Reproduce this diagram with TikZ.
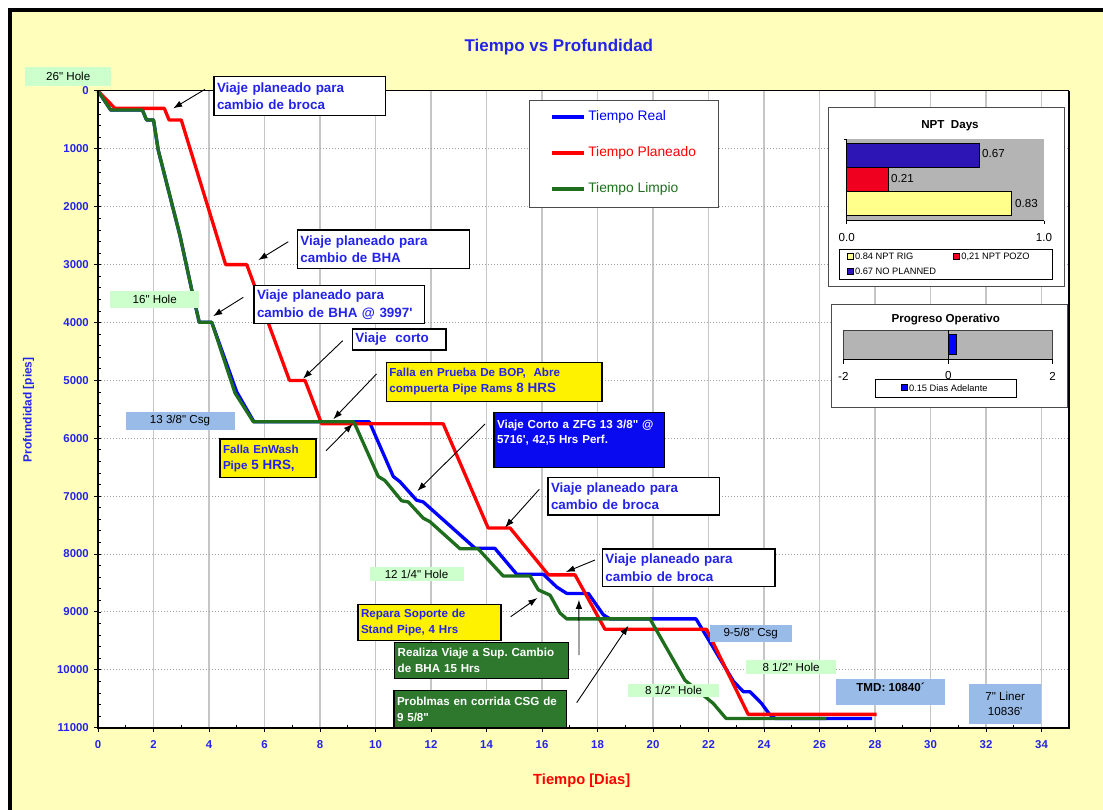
\documentclass[tikz,border=0pt]{standalone}
\usepackage{fontspec}
\setmainfont{Liberation Sans}[Ligatures=TeXOff]
\usepackage{tikz}
\usetikzlibrary{arrows.meta}
\usetikzlibrary{positioning}

\definecolor{panelyellow}{RGB}{255,255,187}
\definecolor{titleblue}{RGB}{35,35,235}
\definecolor{realblue}{RGB}{0,0,255}
\definecolor{planred}{RGB}{255,0,0}
\definecolor{cleangreen}{RGB}{30,110,30}
\definecolor{boxgreen}{RGB}{45,120,45}
\definecolor{boxblue}{RGB}{10,10,240}
\definecolor{holegreen}{RGB}{204,255,204}
\definecolor{csgblue}{RGB}{153,187,232}
\definecolor{nptblue}{RGB}{45,20,180}
\definecolor{nptred}{RGB}{240,0,30}
\definecolor{nptyellow}{RGB}{255,255,140}
\definecolor{insetgray}{RGB}{180,180,180}

\tikzset{
  callout/.style={draw=black,line width=1.4pt,fill=white,text=titleblue,
    font=\bfseries\fontsize{13.4}{17.5}\selectfont,align=left,anchor=north west,
    inner xsep=3pt,inner ysep=0pt},
  warnbox/.style={callout,fill=yellow,font=\bfseries\fontsize{11.6}{16}\selectfont},
  bluebox/.style={callout,fill=boxblue,text=white,font=\bfseries\fontsize{11.6}{15}\selectfont},
  greenbox/.style={callout,fill=boxgreen,text=white,font=\bfseries\fontsize{11.6}{16}\selectfont},
  holetag/.style={fill=holegreen,text=black,font=\fontsize{11.6}{15}\selectfont,
    inner sep=0pt,anchor=north west},
  csgtag/.style={holetag,fill=csgblue},
  callarrow/.style={line width=0.9pt,-{Latex[length=9pt,width=6.5pt]}},
  vgrid/.style={gray!45,line width=1.6pt},
  hgrid/.style={gray!75,line width=1pt,dotted},
  curve/.style={line width=3.3pt,line join=round},
  ticklab/.style={text=titleblue,font=\bfseries\fontsize{11.4}{13}\selectfont,inner sep=1pt},
  smalltxt/.style={font=\fontsize{9.3}{11}\selectfont,inner sep=1pt,anchor=west},
  insettxt/.style={font=\fontsize{11.6}{13}\selectfont,inner sep=1pt}
}

\begin{document}
\frenchspacing
\begin{tikzpicture}[x=1pt,y=-1pt]
\useasboundingbox (0,0) rectangle (1103,810);
%panel and frame
\fill[white] (0,0) rectangle (1103,810);
\fill[panelyellow] (10,10) rectangle (1103,810);
\draw[line width=3.4pt] (10,810) -- (10,10) -- (1103,10);
\node[text=titleblue,font=\bfseries\fontsize{17}{20}\selectfont] (title) at (558.8,47.5) {Tiempo vs Profundidad};

%plot in days and thousands of feet
\begin{scope}[xshift=98pt,yshift=-91pt,x=27.75pt,y=-57.88pt]
  \fill[white] (0,0) rectangle (35,11);
  \foreach \d in {2,4,...,34} \draw[vgrid] (\d,0) -- (\d,11);
  \foreach \k in {1,...,10} \draw[hgrid] (0,\k) -- (35,\k);
  %ticks and labels
  \foreach \k in {0,...,11}{
    \pgfmathtruncatemacro\dep{\k*1000}
    \draw[line width=1pt] (0,\k) -- ++(-4pt,0pt);
    \node[ticklab,anchor=east] (yl\k) at ([xshift=-8pt]0,\k) {\dep};
  }
  \foreach \m in {0.2,0.4,...,10.9} \draw[line width=0.8pt] (0,\m) -- ++(2.5pt,0pt);
  \foreach \d in {0,2,...,34}{
    \draw[line width=1pt] (\d,11) -- ++(0pt,-4pt);
    \node[ticklab] (xl\d) at ([yshift=-17pt]\d,11) {\d};
  }
  \foreach \d in {1,3,...,33} \draw[line width=0.8pt] (\d,11) -- ++(0pt,2.7pt);
  %real, planned and clean time
  \draw[curve,realblue] (0,0) -- (0.46,0.33) -- (1.6,0.33) -- (1.75,0.5) -- (2.0,0.5) -- (2.17,1.02)
    -- (2.95,2.49) -- (3.38,3.44) -- (3.65,3.997) -- (4.1,3.997) -- (5.0,5.2) -- (5.62,5.716)
    -- (9.78,5.716) -- (10.64,6.66) -- (10.88,6.75) -- (11.48,7.07) -- (11.72,7.10) -- (13.59,7.90)
    -- (14.3,7.90) -- (15.09,8.35) -- (16.05,8.35) -- (16.53,8.57) -- (16.89,8.68) -- (17.67,8.68)
    -- (18.21,9.05) -- (18.45,9.12) -- (21.55,9.12) -- (22.9,10.2) -- (23.26,10.38) -- (23.5,10.38)
    -- (23.91,10.58) -- (24.2,10.77) -- (24.4,10.84) -- (27.9,10.84);
  \draw[curve,planred] (0,0) -- (0.61,0.3) -- (2.39,0.3) -- (2.56,0.5) -- (3.0,0.5) -- (4.6,3.0)
    -- (5.36,3.0) -- (6.9,5.0) -- (7.46,5.0) -- (8.06,5.75) -- (12.44,5.75) -- (14.06,7.55)
    -- (14.85,7.55) -- (16.23,8.36) -- (17.19,8.36) -- (18.27,9.3) -- (21.93,9.3) -- (23.43,10.77)
    -- (28.06,10.77);
  \draw[curve,cleangreen] (0,0) -- (0.46,0.33) -- (1.6,0.33) -- (1.75,0.5) -- (2.0,0.5) -- (2.17,1.02)
    -- (2.95,2.49) -- (3.38,3.44) -- (3.65,3.997) -- (4.1,3.997) -- (4.94,5.22) -- (5.6,5.716)
    -- (9.22,5.716) -- (10.1,6.66) -- (10.34,6.73) -- (10.94,7.08) -- (11.18,7.1) -- (11.72,7.38)
    -- (11.96,7.44) -- (13.05,7.91) -- (13.7,7.91) -- (14.6,8.38) -- (15.57,8.38) -- (15.87,8.62)
    -- (16.29,8.71) -- (16.65,9.02) -- (16.89,9.12) -- (19.89,9.12) -- (21.15,10.18) -- (22.17,10.58)
    -- (22.63,10.84) -- (26.25,10.84);
  %plot frame
  \draw[line width=1pt] (0,0) -- (35,0);
  \draw[line width=2pt] (0,0) -- (0,11) -- (35,11) -- (35,0);
  %arrow tips on the curves
  \coordinate (t1) at (2.71,0.30);
  \coordinate (t2) at (5.78,2.92);
  \coordinate (t3) at (4.15,3.89);
  \coordinate (t4) at (7.39,4.97);
  \coordinate (t5) at (8.48,5.67);
  \coordinate (t6) at (9.18,5.75);
  \coordinate (t7) at (11.51,6.91);
  \coordinate (t8) at (14.67,7.54);
  \coordinate (t9) at (16.86,8.31);
  \coordinate (t10) at (15.83,8.76);
  \coordinate (t11) at (17.33,8.79);
  \coordinate (t12) at (19.11,9.24);
\end{scope}

%axis titles
\node[rotate=90,text=titleblue,font=\bfseries\fontsize{11.9}{14}\selectfont] (ytitle) at (28.5,410) {Profundidad [pies]};
\node[text=planred,font=\bfseries\fontsize{14.7}{17}\selectfont] (xtitle) at (581.7,780.5) {Tiempo [Dias]};

%legend
\node[draw=gray!60!black,line width=0.8pt,fill=white,minimum width=189pt,minimum height=107.3pt,
  anchor=north west,inner sep=0pt] (legend) at (529.3,100) {};
\draw[realblue,line width=4pt] (552.3,117.3) -- (584.3,117.3) node[anchor=west,inner sep=2pt,
  font=\fontsize{13.8}{16}\selectfont] (lreal) {Tiempo Real};
\draw[planred,line width=4pt] (552.3,153.3) -- (584.3,153.3) node[anchor=west,inner sep=2pt,
  font=\fontsize{13.8}{16}\selectfont] (lplan) {Tiempo Planeado};
\draw[cleangreen,line width=4pt] (552.3,189.3) -- (584.3,189.3) node[anchor=west,inner sep=2pt,
  font=\fontsize{13.8}{16}\selectfont] (lclean) {Tiempo Limpio};

%hole and casing tags
\node[holetag,minimum width=86pt,minimum height=19pt] (h26) at (25,66.7) {26" Hole};
\node[holetag,minimum width=89pt,minimum height=17pt] (h16) at (110,290.7) {16" Hole};
\node[csgtag,minimum width=109pt,minimum height=17.6pt] (c133) at (125.3,411.7) {13 3/8" Csg};
\node[holetag,minimum width=94pt,minimum height=14pt] (h12) at (369.3,566.7) {12 1/4" Hole};
\node[csgtag,minimum width=82.4pt,minimum height=16.7pt] (c958) at (709.3,625) {9-5/8" Csg};
\node[holetag,minimum width=90.3pt,minimum height=14.7pt] (h8a) at (745.7,659.3) {8 1/2" Hole};
\node[holetag,minimum width=90.7pt,minimum height=13.4pt] (h8b) at (628,683.3) {8 1/2" Hole};
\node[csgtag,minimum width=109.3pt,text height=12.5pt,text depth=14.2pt,
  font=\bfseries\fontsize{11.6}{14}\selectfont] (tmd) at (835.7,678.3) {TMD: 10840´};
\node[csgtag,minimum width=72pt,minimum height=40pt,align=center] (liner) at (969,683.3)
  {7" Liner\\10836'};

%callouts
\node[callout,text width=165.3pt,minimum height=39pt] (c1) at (213.3,76) {Viaje planeado para\\cambio de broca};
\node[callout,text width=165.9pt,minimum height=38.4pt] (c2) at (296.7,229.3) {Viaje planeado para\\cambio de BHA};
\node[callout,text width=164.3pt,minimum height=37.7pt] (c3) at (253.3,285) {Viaje planeado para\\cambio de BHA @ 3997'};
\node[callout,text width=87.6pt,minimum height=21pt] (c4) at (351.7,328.3) {Viaje\ \ corto};
\node[warnbox,text width=209.6pt,minimum height=39pt] (y1) at (385.7,361.7)
  {Falla en Prueba De BOP,\ \ Abre\\compuerta Pipe Rams {\fontsize{13.4}{16}\selectfont 8 HRS}};
\node[warnbox,text width=90pt,minimum height=38.4pt] (y2) at (219.3,438.3)
  {Falla EnWash\\Pipe {\fontsize{13.4}{16}\selectfont 5 HRS,}};
\node[bluebox,text width=164.3pt,text height=16pt,text depth=39pt] (b1) at (493.3,411.7)
  {Viaje Corto a ZFG 13 3/8" @\\5716', 42,5 Hrs Perf.};
\node[callout,text width=165.3pt,minimum height=37.6pt] (c5) at (547.3,476.7) {Viaje planeado para\\cambio de broca};
\node[callout,text width=166.6pt,minimum height=37.7pt] (c6) at (601.7,548.3) {Viaje planeado para\\cambio de broca};
\node[warnbox,text width=137pt,minimum height=36pt] (y3) at (357.3,604) {Repara Soporte de\\Stand Pipe, 4 Hrs};
\node[greenbox,text width=167.9pt,minimum height=36pt] (g1) at (394,641.7) {Realiza Viaje a Sup. Cambio\\de BHA 15 Hrs};
\node[greenbox,text width=166.6pt,minimum height=36.7pt] (g2) at (393.3,690) {Problmas en corrida CSG de\\9 5/8"};

%arrows
\coordinate (s1) at (205,89.3);
\coordinate (s2) at (288.3,241.7);
\coordinate (s3) at (243.3,297.3);
\coordinate (s4) at (342.7,340.7);
\coordinate (s5) at (376.5,374);
\coordinate (s6) at (326,450.7);
\coordinate (s7) at (485,424);
\coordinate (s8) at (539.3,489.3);
\coordinate (s9) at (595,560);
\coordinate (s10) at (510.7,616.7);
\coordinate (s11) at (579,655);
\coordinate (s12) at (576.7,702.7);
\foreach \i in {1,...,12} \draw[callarrow] (s\i) -- (t\i);

%NPT days inset
\node[draw=gray!60!black,line width=0.8pt,fill=white,minimum width=236pt,minimum height=178.7pt,
  anchor=north west,inner sep=0pt] (nptbox) at (828.3,107.3) {};
\node[font=\bfseries\fontsize{11.6}{14}\selectfont] (npttitle) at (950,126) {NPT\ \ Days};
\fill[insetgray] (846.7,139.3) rectangle (1044,220.7);
\filldraw[fill=nptblue,draw=black,line width=1pt] (846.7,143.3) rectangle (979.3,167.7);
\filldraw[fill=nptred,draw=black,line width=1pt] (846.7,167.7) rectangle (888.3,191.7);
\filldraw[fill=nptyellow,draw=black,line width=1pt] (846.7,191.7) rectangle (1011.7,215.7);
\draw[line width=0.8pt] (843.5,139.3) -- (846.7,139.3) -- (846.7,220.7) -- (1044,220.7);
\draw[line width=0.8pt] (846.7,220.7) -- (846.7,224.5) (1044,220.7) -- (1044,224.5);
\node[insettxt,anchor=west] (v67) at (981,154) {0.67};
\node[insettxt,anchor=west] (v21) at (890,179) {0.21};
\node[insettxt,anchor=west] (v83) at (1014,203.5) {0.83};
\node[insettxt] (n0) at (846.7,238) {0.0};
\node[insettxt] (n1) at (1044,238) {1.0};
\node[draw=black,line width=0.6pt,fill=white,minimum width=212.4pt,minimum height=30pt,
  anchor=north west,inner sep=0pt] (nptkey) at (839.3,249.3) {};
\filldraw[fill=nptyellow,draw=black,line width=0.6pt] (847.3,253.7) rectangle (853.3,259.7);
\node[smalltxt] (krig) at (853.8,256.7) {0.84 NPT RIG};
\filldraw[fill=nptred,draw=black,line width=0.6pt] (953.7,253.7) rectangle (959.7,259.7);
\node[smalltxt] (kpozo) at (960.2,256.7) {0,21 NPT POZO};
\filldraw[fill=nptblue,draw=black,line width=0.6pt] (847.3,268) rectangle (853.3,274);
\node[smalltxt] (knop) at (853.8,271) {0.67 NO PLANNED};

%progreso operativo inset
\node[draw=gray!60!black,line width=0.8pt,fill=white,minimum width=236pt,minimum height=103.3pt,
  anchor=north west,inner sep=0pt] (progbox) at (830.7,304) {};
\node[font=\bfseries\fontsize{11.6}{14}\selectfont] (progtitle) at (945.7,320) {Progreso Operativo};
\filldraw[fill=insetgray,draw=gray!50!black,line width=0.6pt] (843.3,330) rectangle (1052.7,359.3);
\filldraw[fill=realblue,draw=black,line width=1pt] (948.3,334.3) rectangle (956,354.3);
\draw[line width=0.8pt] (948.3,330) -- (948.3,359.3);
\draw[line width=0.8pt] (843.3,359.3) -- (1052.7,359.3);
\foreach \p in {843.3,948.3,1052.7} \draw[line width=0.8pt] (\p,359.3) -- (\p,363.5);
\node[draw=black,line width=0.6pt,fill=white,minimum width=140.7pt,minimum height=18pt,
  anchor=north west,inner sep=0pt] (progkey) at (875,379.3) {};
\node[insettxt] (pm2) at (843.3,376) {-2};
\node[insettxt] (p0) at (948.3,376) {0};
\node[insettxt] (pp2) at (1052.7,376) {2};
\filldraw[fill=realblue,draw=black,line width=0.6pt] (901.3,384.7) rectangle (907.3,390.7);
\node[smalltxt] (kdias) at (907.8,387.7) {0.15 Dias Adelante};
\end{tikzpicture}
\end{document}
